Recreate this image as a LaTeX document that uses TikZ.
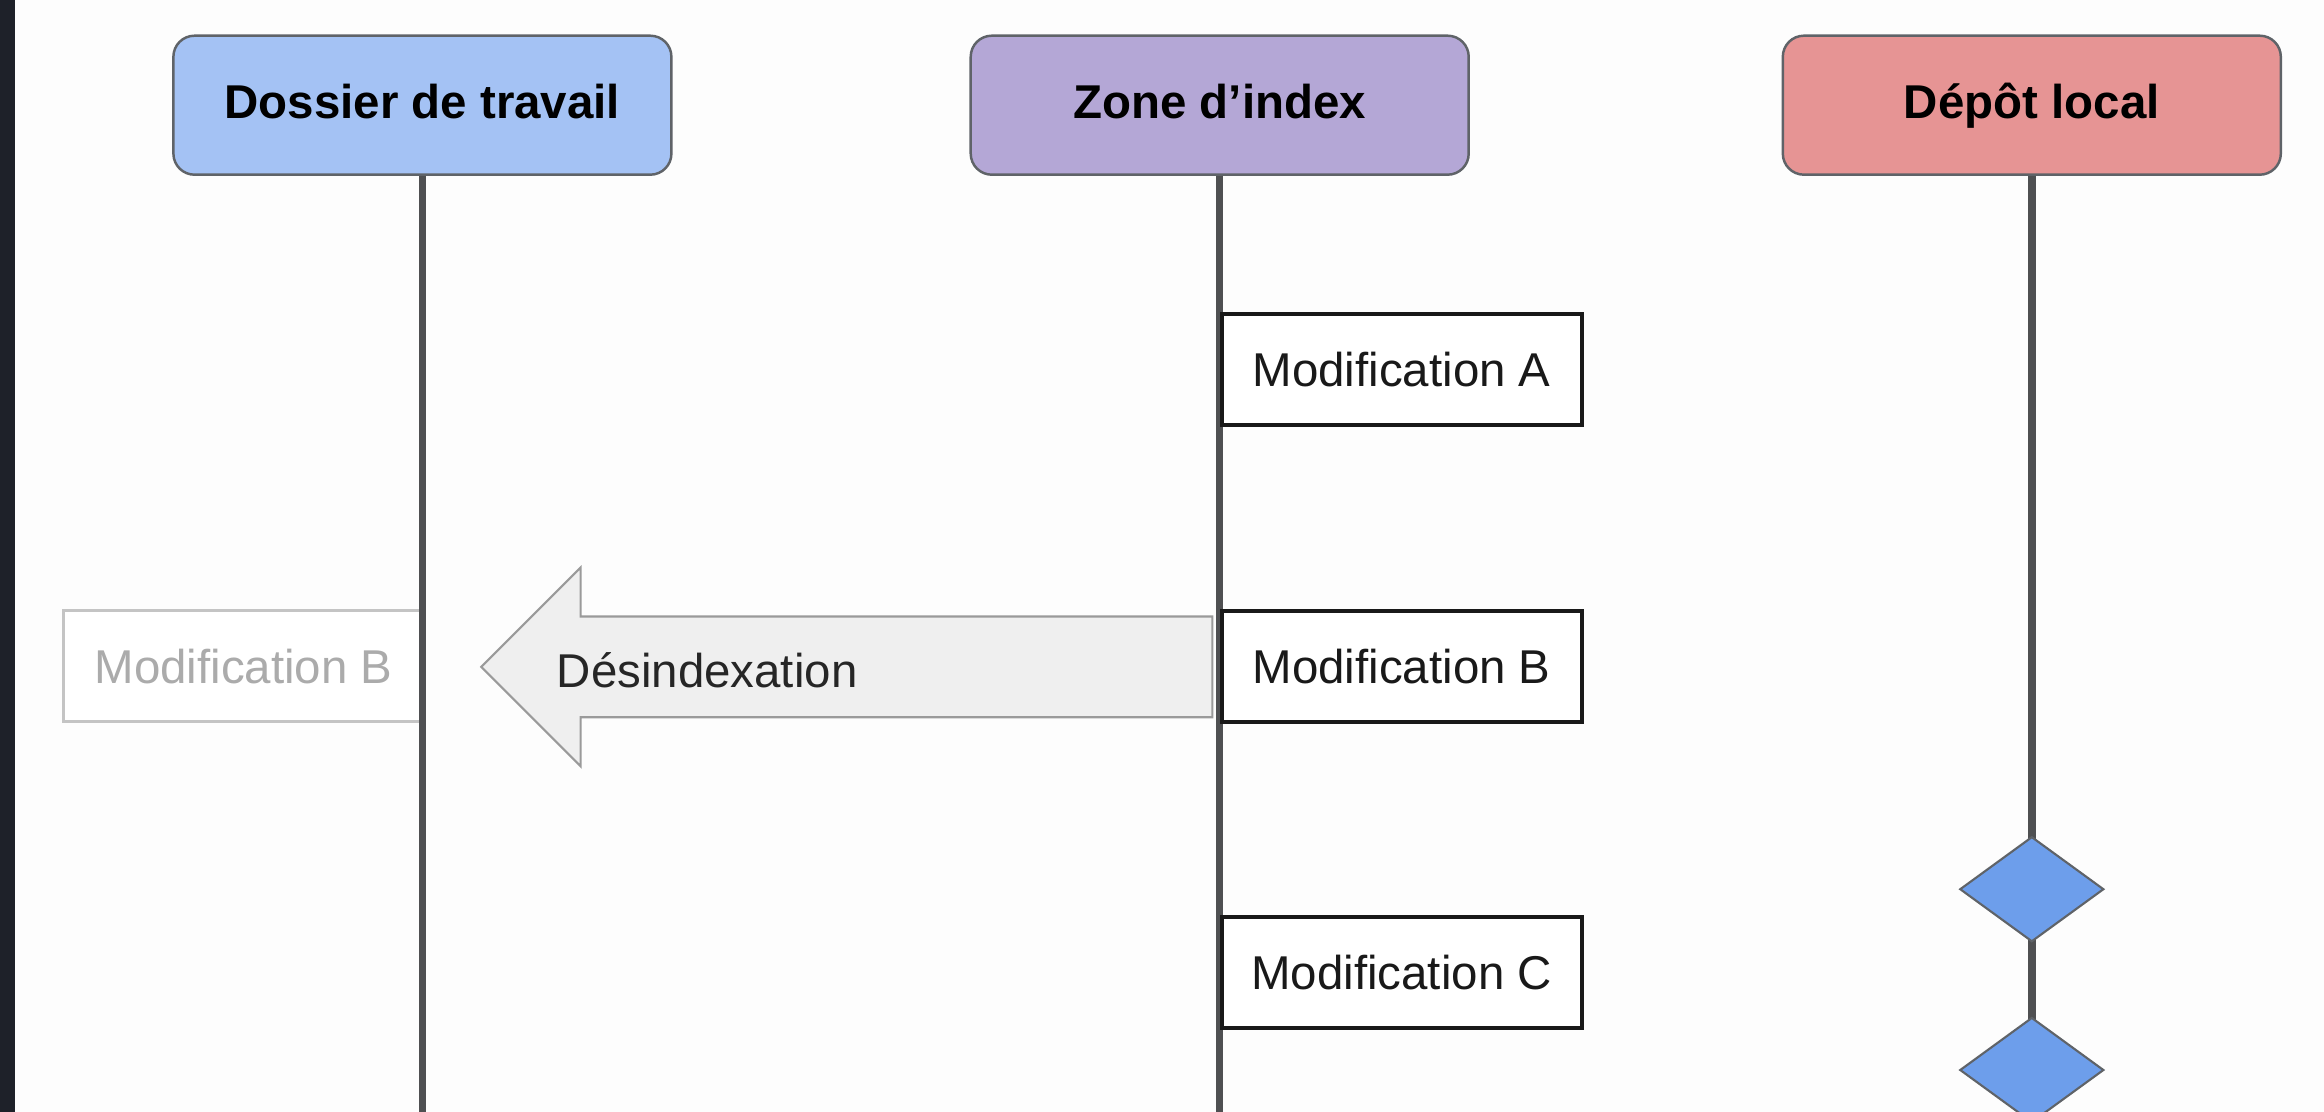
\documentclass[tikz,border=0pt]{standalone}
\usepackage{fontspec}
\setmainfont{Liberation Sans}
\usetikzlibrary{calc,shapes.geometric}

\definecolor{workblue}{HTML}{A4C2F4}
\definecolor{indexpurple}{HTML}{B4A7D6}
\definecolor{repored}{HTML}{E69494}
\definecolor{commitblue}{HTML}{6D9EEB}
\definecolor{laneborder}{HTML}{5F6368}
\definecolor{lifegray}{HTML}{4F5052}
\definecolor{ghostgray}{HTML}{C4C4C4}
\definecolor{ghosttext}{HTML}{ABABAB}
\definecolor{arrowfill}{HTML}{EFEFEF}
\definecolor{arrowline}{HTML}{9A9A9A}
\definecolor{screendark}{HTML}{1E2129}
\definecolor{paper}{HTML}{FDFDFD}

\begin{document}
\begin{tikzpicture}[thick,
        lane/.style={rectangle, draw=laneborder, line width=0.7pt, rounded corners=6pt, minimum width=4.98cm, minimum height=1.39cm, text height=0.73em, text depth=0pt, font=\fontsize{13.5}{16}\selectfont\bfseries},
        lifeline/.style={draw=lifegray, line width=2.1pt},
        change/.style={rectangle, draw=black!90, fill=white, line width=1.1pt, anchor=west, minimum width=3.6cm, minimum height=1.11cm, text=black!90, font=\fontsize{13.5}{16}\selectfont},
        ghost change/.style={change, draw=ghostgray, text=ghosttext, line width=0.8pt},
        unstage/.style={draw=arrowline, fill=arrowfill, line width=0.6pt},
        commit/.style={diamond, draw=laneborder, fill=commitblue, line width=0.6pt, inner sep=0pt, minimum width=1.44cm, minimum height=1.05cm}]

            % Page

            \useasboundingbox (0,0) rectangle (23.24,-11.12);
            \fill[paper] (0,0) rectangle (23.24,-11.12);
            \fill[screendark] (0,0) rectangle (0.15,-11.12);
            \coordinate (bottom) at (0,-11.12);

            % Lanes

            \node [lane, fill=workblue] (work) at (4.224,-1.052) {Dossier de travail};
            \node [lane, fill=indexpurple] (index) at (12.197,-1.052) {Zone d’index};
            \node [lane, fill=repored] (repo) at (20.318,-1.052) {Dépôt local};

            \node [ghost change] (ghostB) at (0.622,-6.662) {Modification B};

            \foreach \l in {work,index,repo} {
                \draw [lifeline] (\l.south) -- (\l.south |- bottom);
            }

            % Changes

            \node [change] (modA) at (index.south |- 0,-3.698) {Modification A};
            \node [change] (modB) at (index.south |- 0,-6.662) {Modification B};
            \node [change] (modC) at (index.south |- 0,-9.729) {Modification C};

            % Unstaging

            \coordinate (tip) at ($(ghostB.east)+(0.563,-0.007)$);
            \coordinate (tail) at ($(modB.west)+(-0.074,-0.007)$);
            \draw [unstage] ($(tail)+(0,0.504)$) -- ($(tip)+(0.993,0.504)$) -- ($(tip)+(0.993,0.993)$)
                -- (tip) -- ($(tip)+(0.993,-0.993)$) -- ($(tip)+(0.993,-0.504)$) -- ($(tail)+(0,-0.504)$) -- cycle;
            \node [anchor=west, inner sep=0pt, text=black!85, font=\fontsize{13.5}{16}\selectfont] (unstagelbl) at ($(tip)+(0.741,-0.03)$) {Désindexation};

            % Commits

            \node [commit] (c1) at (repo.south |- 0,-8.892) {};
            \node [commit] (c2) at (repo.south |- 0,-10.70) {};
        \end{tikzpicture}
\end{document}
